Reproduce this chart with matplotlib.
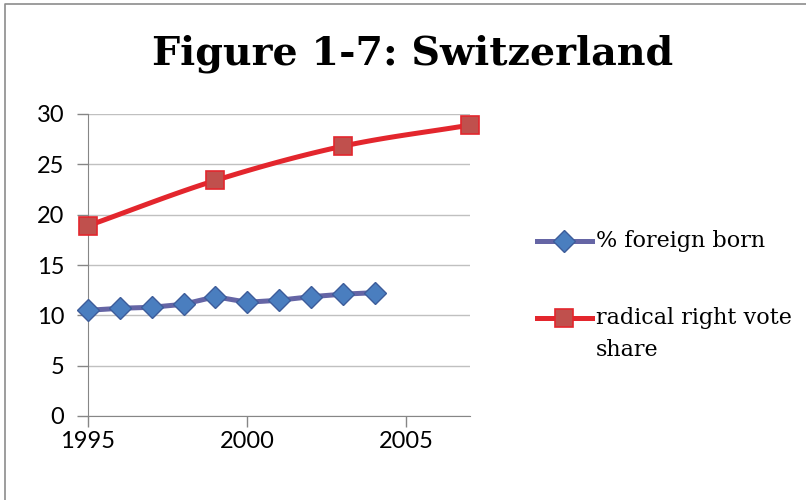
import numpy as np
import matplotlib
matplotlib.use('Agg')
import matplotlib.pyplot as plt
from matplotlib.lines import Line2D

# data
born_years = [1995, 1996, 1997, 1998, 1999, 2000, 2001, 2002, 2003, 2004]
foreign_born = [10.5, 10.7, 10.8, 11.1, 11.85, 11.3, 11.5, 11.85, 12.1, 12.25]
vote_years = [1995, 1999, 2003, 2007]
radical_right = [18.9, 23.4, 26.8, 28.9]
x_ticks = [1995, 2000, 2005]
y_ticks = [0, 5, 10, 15, 20, 25, 30]
labels = ['% foreign born', 'radical right vote\nshare']


def smooth(xs, ys, n=30):
    # Catmull-Rom curve through the points (like Excel's smoothed line)
    xs = np.asarray(xs, float)
    ys = np.asarray(ys, float)
    px = np.concatenate([[2 * xs[0] - xs[1]], xs, [2 * xs[-1] - xs[-2]]])
    py = np.concatenate([[2 * ys[0] - ys[1]], ys, [2 * ys[-1] - ys[-2]]])
    out_x, out_y = [], []
    t = np.linspace(0, 1, n)
    for i in range(1, len(px) - 2):
        for p, out in ((px, out_x), (py, out_y)):
            p0, p1, p2, p3 = p[i - 1], p[i], p[i + 1], p[i + 2]
            out.extend(0.5 * (2 * p1 + (-p0 + p2) * t
                              + (2 * p0 - 5 * p1 + 4 * p2 - p3) * t ** 2
                              + (-p0 + 3 * p1 - 3 * p2 + p3) * t ** 3))
    return out_x, out_y


fig = plt.figure(figsize=(8.06, 5.0), dpi=100)
ax = fig.add_axes([88 / 806, 1 - 416 / 500, (470 - 88) / 806, (416 - 114) / 500])

blue_line = '#6565a5'
red_line = '#e3262d'
blue_style = dict(marker='D', ms=11.5, mfc='#4a7ebf', mec='#3d5c9a', mew=1)
red_style = dict(marker='s', ms=13.5, mfc='#c0504d', mec=red_line, mew=1.2)

ax.plot(born_years, foreign_born, color=blue_line, lw=3.6, zorder=3, clip_on=False)
ax.plot(born_years, foreign_born, ls='none', zorder=4, clip_on=False, **blue_style)

sx, sy = smooth(vote_years, radical_right)
ax.plot(sx, sy, color=red_line, lw=3.6, zorder=3, clip_on=False)
ax.plot(vote_years, radical_right, ls='none', zorder=4, clip_on=False, **red_style)

ax.set_xlim(1995, 2007)
ax.set_ylim(0, 30)
ax.set_xticks(x_ticks)
ax.set_yticks(y_ticks)
ax.grid(axis='y', color='#c0c0c0', lw=1)
ax.set_axisbelow(True)
for s in ['top', 'right']:
    ax.spines[s].set_visible(False)
for s in ['left', 'bottom']:
    ax.spines[s].set_color('#868686')
ax.tick_params(axis='both', colors='#868686', labelcolor='black',
               length=8, width=1, labelsize=17)
ax.tick_params(axis='y', pad=9)
ax.tick_params(axis='x', pad=3)
for lbl in ax.get_xticklabels() + ax.get_yticklabels():
    lbl.set_family('Lato')

fig.text(0.512, 1 - 54 / 500, 'Figure 1-7: Switzerland', ha='center', va='center',
         fontsize=28.5, fontweight='bold', family='DejaVu Serif')

# legend, drawn by hand so the handle sits on the first text line
for (color, style, lab, yy) in [(blue_line, blue_style, labels[0], 241),
                                (red_line, red_style, labels[1], 318)]:
    yf = 1 - yy / 500
    fig.add_artist(Line2D([537 / 806, 592 / 806], [yf, yf], color=color, lw=3.6))
    fig.add_artist(Line2D([564 / 806], [yf], ls='none', **style))
    fig.text(596 / 806, yf + 11 / 500, lab, ha='left', va='top',
             fontsize=16, family='DejaVu Serif', linespacing=1.6)

# chart border (only left and top edges are visible in the crop)
fig.add_artist(Line2D([5 / 806, 5 / 806, 1], [0, 1 - 4 / 500, 1 - 4 / 500],
                      color='#8c8c8c', lw=1.2))

fig.savefig('out.png', dpi=100)
